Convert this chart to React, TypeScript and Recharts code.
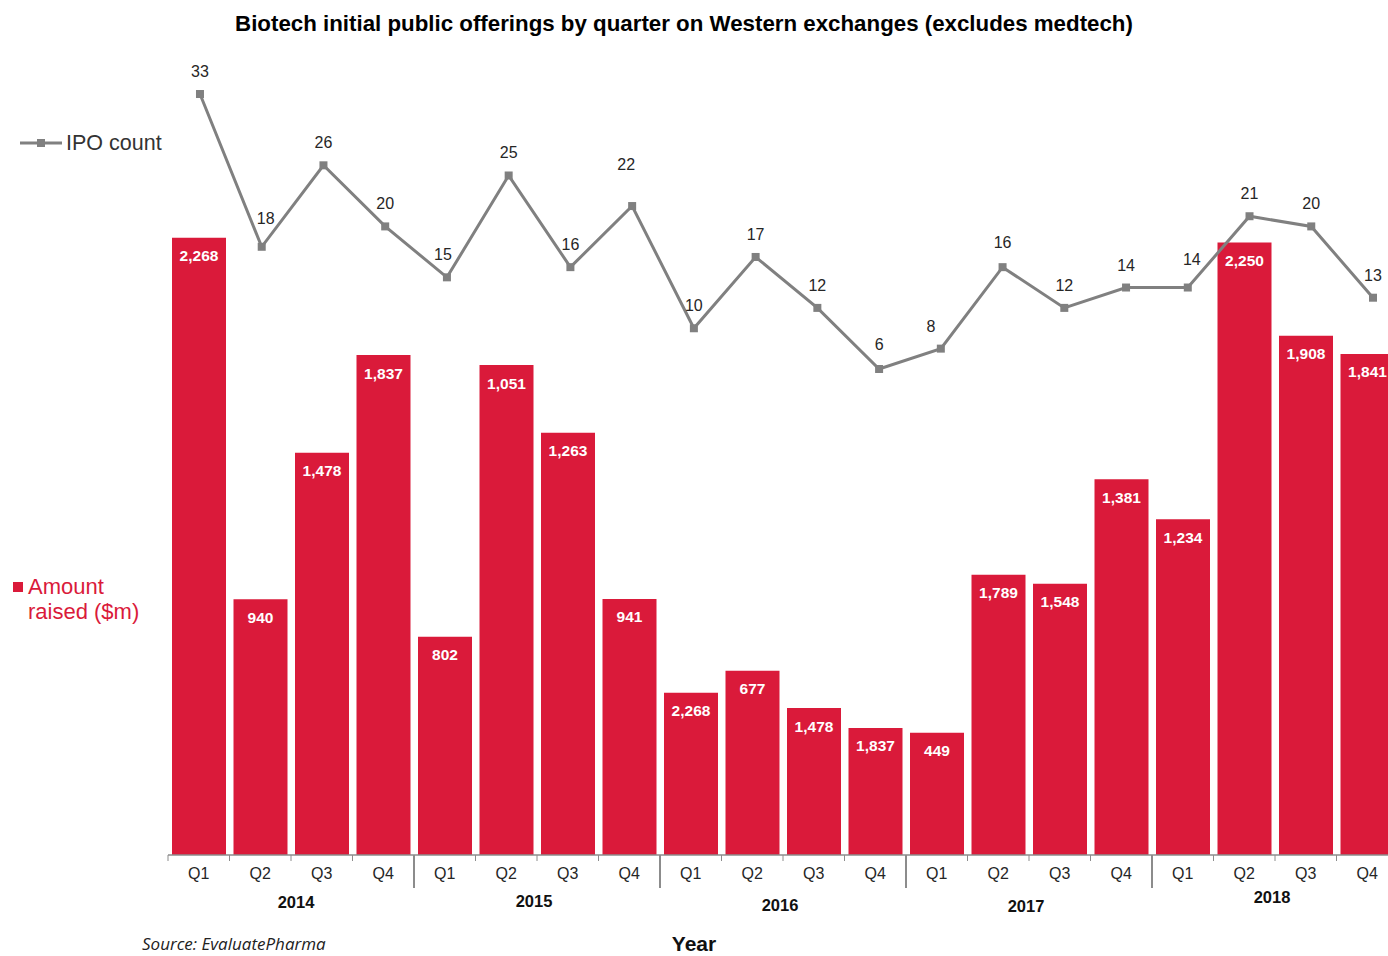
import React from "react";
import { ComposedChart, Bar, Line, XAxis, YAxis, LabelList } from "recharts";

const quarters = ["Q1", "Q2", "Q3", "Q4", "Q1", "Q2", "Q3", "Q4", "Q1", "Q2", "Q3", "Q4", "Q1", "Q2", "Q3", "Q4", "Q1", "Q2", "Q3", "Q4"];
const years = ["2014", "2015", "2016", "2017", "2018"];
// bar heights as drawn ($m)
const amountRaised = [2268, 940, 1478, 1837, 802, 1800, 1551, 941, 596, 677, 540, 467, 449, 1030, 997, 1381, 1234, 2250, 1908, 1841];
// labels as printed on the bars
const amountLabels = ["2,268", "940", "1,478", "1,837", "802", "1,051", "1,263", "941", "2,268", "677", "1,478", "1,837", "449", "1,789", "1,548", "1,381", "1,234", "2,250", "1,908", "1,841"];
const ipoCount = [33, 18, 26, 20, 15, 25, 16, 22, 10, 17, 12, 6, 8, 16, 12, 14, 14, 21, 20, 13];

const data = quarters.map((q, i) => ({
  key: `${years[Math.floor(i / 4)]}-${q}`,
  quarter: q,
  idx: i,
  amount: amountRaised[i],
  amountLabel: amountLabels[i],
  count: ipoCount[i],
}));

const RED = "#DA1A3A";
const GRAY = "#808080";
const TEXT = "#262626";
const FONT = "'Liberation Sans', Arial, sans-serif";

const PLOT_LEFT = 168;
const PLOT_RIGHT = 1398;
const BAND = (PLOT_RIGHT - PLOT_LEFT) / quarters.length;

// label nudges (style only)
const LABEL_NUDGE: Record<number, [number, number]> = { 1: [4, -6], 4: [-4, 0], 7: [-6, -19], 11: [0, -2], 12: [-10, 0], 13: [0, -2], 16: [4, -6] };
const YEAR_DY = [0, -1, 3, 4, -5];
const YEAR_DX = [5, -3, -3, -3, -3];

const QuarterTick = (props: any) => {
  const { x, y, index } = props;
  const left = x - BAND / 2;
  const isYearStart = index % 4 === 0 && index !== 0;
  const yearIdx = Math.floor(index / 4);
  return (
    <g>
      <line x1={left} x2={left} y1={y - 8} y2={isYearStart ? y + 25 : y - 2} stroke="#8c8c8c" strokeWidth={isYearStart ? 2 : 1} />
      <text x={x} y={y + 16} textAnchor="middle" fontFamily={FONT} fontSize={16} fill={TEXT}>
        {data[index] ? data[index].quarter : ""}
      </text>
      {index % 4 === 1 && (
        <text x={x + BAND / 2 + YEAR_DX[yearIdx]} y={y + 45 + YEAR_DY[yearIdx]} textAnchor="middle" fontFamily={FONT} fontSize={16.5} fontWeight="bold" fill="#111">
          {years[yearIdx]}
        </text>
      )}
    </g>
  );
};

const SquareDot = (props: any) => {
  const { cx, cy } = props;
  if (cx == null || cy == null) return null;
  return <rect x={cx - 4} y={cy - 4} width={8} height={8} fill={GRAY} />;
};

const CountLabel = (props: any) => {
  const { x, y, value, index } = props;
  const [dx, dy] = LABEL_NUDGE[index] || [0, 0];
  return (
    <text x={x + dx} y={y - 17 + dy} textAnchor="middle" fontFamily={FONT} fontSize={16} fill={TEXT}>
      {value}
    </text>
  );
};

const AmountLabel = (props: any) => {
  const { x, y, width, index } = props;
  return (
    <text x={x + width / 2} y={y + 23.5} textAnchor="middle" fontFamily={FONT} fontSize={15.5} fontWeight="bold" fill="#fff">
      {data[index].amountLabel}
    </text>
  );
};

export default function App() {
  return (
    <div style={{ position: "absolute", left: 0, top: 0, width: 1388, height: 956, overflow: "hidden", background: "#fff", fontFamily: FONT }}>
      <div style={{ position: "absolute", left: 0, top: 11, width: 1368, textAlign: "center", fontSize: 22.3, fontWeight: "bold", color: "#000", whiteSpace: "nowrap" }}>
        Biotech initial public offerings by quarter on Western exchanges (excludes medtech)
      </div>
      <ComposedChart
        width={PLOT_RIGHT}
        height={956}
        data={data}
        margin={{ top: 60, right: 0, bottom: 41, left: PLOT_LEFT }}
        barCategoryGap={4}
        style={{ position: "absolute", left: 0, top: 0 }}
      >
        <XAxis
          xAxisId="cat"
          dataKey="key"
          type="category"
          height={60}
          axisLine={{ stroke: "#8c8c8c", strokeWidth: 1.5 }}
          tickLine={false}
          interval={0}
          tick={<QuarterTick />}
        />
        <XAxis xAxisId="num" dataKey="idx" type="number" domain={[-0.518, 19.405]} allowDataOverflow hide />
        <YAxis yAxisId="amt" domain={[0, 2921]} allowDataOverflow hide />
        <YAxis yAxisId="cnt" domain={[-41.72, 36.34]} allowDataOverflow hide />
        <Bar xAxisId="cat" yAxisId="amt" dataKey="amount" fill={RED} isAnimationActive={false}>
          <LabelList dataKey="amount" content={<AmountLabel />} />
        </Bar>
        <Line
          xAxisId="num"
          yAxisId="cnt"
          dataKey="count"
          stroke={GRAY}
          strokeWidth={3}
          dot={<SquareDot />}
          activeDot={false}
          isAnimationActive={false}
        >
          <LabelList dataKey="count" content={<CountLabel />} />
        </Line>
      </ComposedChart>

      {/* Legend: IPO count */}
      <svg style={{ position: "absolute", left: 18, top: 136 }} width={46} height={14}>
        <line x1={2} x2={44} y1={7} y2={7} stroke={GRAY} strokeWidth={3} />
        <rect x={19} y={3} width={8} height={8} fill={GRAY} />
      </svg>
      <div style={{ position: "absolute", left: 66, top: 130, fontSize: 21.5, color: "#333", lineHeight: "26px", whiteSpace: "nowrap" }}>IPO count</div>

      {/* Legend: Amount raised */}
      <div style={{ position: "absolute", left: 13, top: 582, width: 10, height: 10, background: RED }} />
      <div style={{ position: "absolute", left: 28, top: 574, fontSize: 22, color: RED, lineHeight: "25px", whiteSpace: "nowrap" }}>
        Amount
        <br />
        raised ($m)
      </div>

      <div style={{ position: "absolute", left: 142, top: 935, fontSize: 17, lineHeight: "18px", fontStyle: "italic", color: "#222", fontFamily: "'Open Sans', sans-serif", whiteSpace: "nowrap" }}>
        Source: EvaluatePharma
      </div>
      <div style={{ position: "absolute", left: 0, top: 934, width: 1388, textAlign: "center", fontSize: 21, lineHeight: "20px", fontWeight: "bold", color: "#111" }}>
        Year
      </div>
    </div>
  );
}
